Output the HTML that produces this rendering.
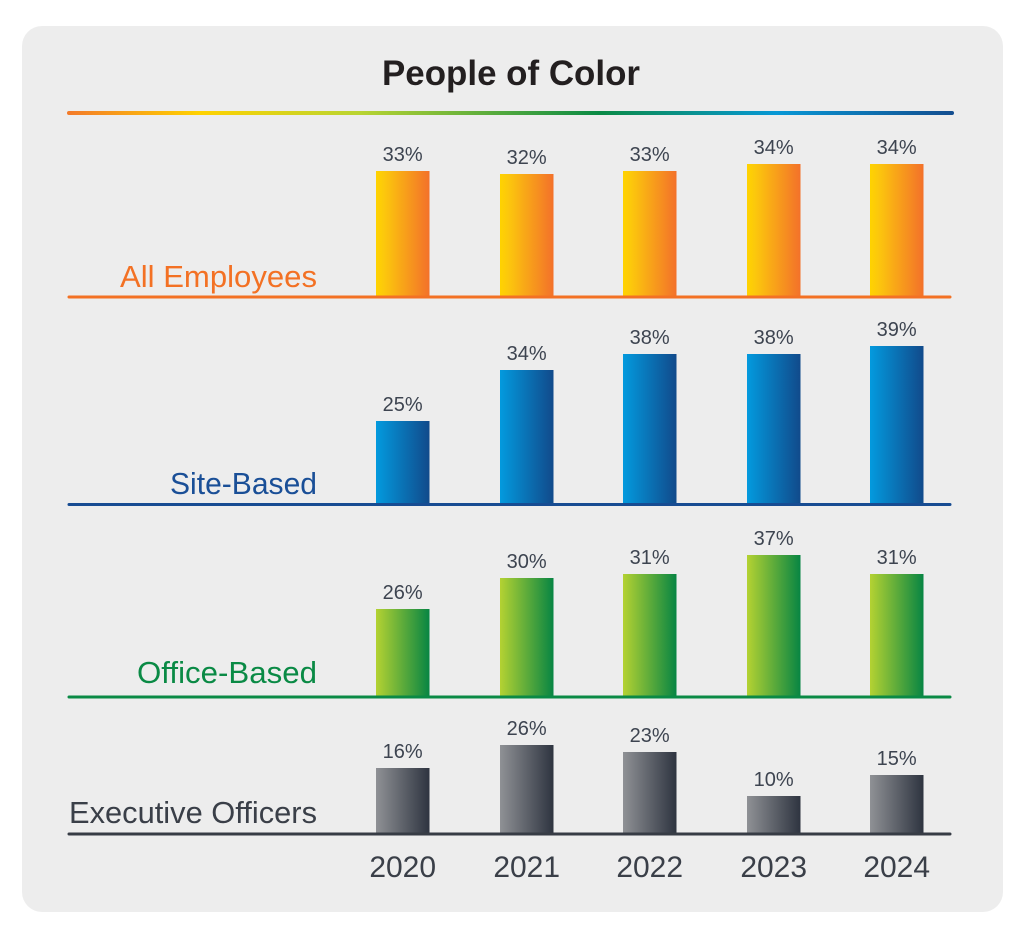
<!DOCTYPE html>
<html>
<head>
<meta charset="utf-8">
<style>
html,body{margin:0;padding:0;background:#ffffff;}
svg{display:block;}
text{font-family:"Liberation Sans",sans-serif;}
</style>
</head>
<body>
<svg width="1024" height="931" viewBox="0 0 1024 931" xmlns="http://www.w3.org/2000/svg">
<defs>
<linearGradient id="rainbow" x1="67" y1="0" x2="954" y2="0" gradientUnits="userSpaceOnUse">
<stop offset="0" stop-color="#f37a2a"/>
<stop offset="0.15" stop-color="#ffd200"/>
<stop offset="0.33" stop-color="#b9d432"/>
<stop offset="0.6" stop-color="#0a8a45"/>
<stop offset="0.8" stop-color="#0898d6"/>
<stop offset="1" stop-color="#134d8f"/>
</linearGradient>
<linearGradient id="gOr" x1="0" y1="0" x2="1" y2="0">
<stop offset="0" stop-color="#ffd300"/>
<stop offset="0.15" stop-color="#fcc80c"/>
<stop offset="1" stop-color="#f3712a"/>
</linearGradient>
<linearGradient id="gBl" x1="0" y1="0" x2="1" y2="0">
<stop offset="0" stop-color="#039ade"/>
<stop offset="1" stop-color="#114a8b"/>
</linearGradient>
<linearGradient id="gGr" x1="0" y1="0" x2="1" y2="0">
<stop offset="0" stop-color="#b4d232"/>
<stop offset="1" stop-color="#078543"/>
</linearGradient>
<linearGradient id="gGy" x1="0" y1="0" x2="1" y2="0">
<stop offset="0" stop-color="#8f9195"/>
<stop offset="1" stop-color="#2e3440"/>
</linearGradient>
</defs>

<rect x="22" y="26" width="981" height="886" rx="20" ry="20" fill="#ededed"/>

<text x="511" y="85" text-anchor="middle" font-size="35" font-weight="bold" fill="#231f20" textLength="258" lengthAdjust="spacingAndGlyphs">People of Color</text>

<line x1="69" y1="113" x2="952" y2="113" stroke="url(#rainbow)" stroke-width="4" stroke-linecap="round"/>

<!-- All Employees -->
<g fill="url(#gOr)">
<rect x="376" y="171" width="53.5" height="126"/>
<rect x="500" y="174" width="53.5" height="123"/>
<rect x="623" y="171" width="53.5" height="126"/>
<rect x="747" y="164" width="53.5" height="133"/>
<rect x="870" y="164" width="53.5" height="133"/>
</g>
<line x1="69" y1="297" x2="950" y2="297" stroke="#f37124" stroke-width="3" stroke-linecap="round"/>
<text x="317" y="287" text-anchor="end" font-size="31" fill="#f37124" textLength="197" lengthAdjust="spacingAndGlyphs">All Employees</text>
<g font-size="20" fill="#3d4450" text-anchor="middle">
<text x="402.7" y="161">33%</text>
<text x="526.7" y="164">32%</text>
<text x="649.7" y="161">33%</text>
<text x="773.7" y="154">34%</text>
<text x="896.7" y="154">34%</text>
</g>

<!-- Site-Based -->
<g fill="url(#gBl)">
<rect x="376" y="421" width="53.5" height="84"/>
<rect x="500" y="370" width="53.5" height="135"/>
<rect x="623" y="354" width="53.5" height="151"/>
<rect x="747" y="354" width="53.5" height="151"/>
<rect x="870" y="346" width="53.5" height="159"/>
</g>
<line x1="69" y1="504.5" x2="950" y2="504.5" stroke="#174c92" stroke-width="3" stroke-linecap="round"/>
<text x="317" y="494" text-anchor="end" font-size="31" fill="#1a4f97" textLength="147" lengthAdjust="spacingAndGlyphs">Site-Based</text>
<g font-size="20" fill="#3d4450" text-anchor="middle">
<text x="402.7" y="411">25%</text>
<text x="526.7" y="360">34%</text>
<text x="649.7" y="344">38%</text>
<text x="773.7" y="344">38%</text>
<text x="896.7" y="336">39%</text>
</g>

<!-- Office-Based -->
<g fill="url(#gGr)">
<rect x="376" y="609" width="53.5" height="88"/>
<rect x="500" y="578" width="53.5" height="119"/>
<rect x="623" y="574" width="53.5" height="123"/>
<rect x="747" y="555" width="53.5" height="142"/>
<rect x="870" y="574" width="53.5" height="123"/>
</g>
<line x1="69" y1="697" x2="950" y2="697" stroke="#0a8a45" stroke-width="3" stroke-linecap="round"/>
<text x="317" y="683" text-anchor="end" font-size="31" fill="#0a8a45" textLength="180" lengthAdjust="spacingAndGlyphs">Office-Based</text>
<g font-size="20" fill="#3d4450" text-anchor="middle">
<text x="402.7" y="599">26%</text>
<text x="526.7" y="568">30%</text>
<text x="649.7" y="564">31%</text>
<text x="773.7" y="545">37%</text>
<text x="896.7" y="564">31%</text>
</g>

<!-- Executive Officers -->
<g fill="url(#gGy)">
<rect x="376" y="768" width="53.5" height="66"/>
<rect x="500" y="745" width="53.5" height="89"/>
<rect x="623" y="752" width="53.5" height="82"/>
<rect x="747" y="796" width="53.5" height="38"/>
<rect x="870" y="775" width="53.5" height="59"/>
</g>
<line x1="69" y1="834" x2="950" y2="834" stroke="#373c45" stroke-width="3" stroke-linecap="round"/>
<text x="317" y="823" text-anchor="end" font-size="31" fill="#3a3f48" textLength="248" lengthAdjust="spacingAndGlyphs">Executive Officers</text>
<g font-size="20" fill="#3d4450" text-anchor="middle">
<text x="402.7" y="758">16%</text>
<text x="526.7" y="735">26%</text>
<text x="649.7" y="742">23%</text>
<text x="773.7" y="786">10%</text>
<text x="896.7" y="765">15%</text>
</g>

<!-- Years -->
<g font-size="30" fill="#3a3f48" text-anchor="middle">
<text x="402.7" y="877">2020</text>
<text x="526.7" y="877">2021</text>
<text x="649.7" y="877">2022</text>
<text x="773.7" y="877">2023</text>
<text x="896.7" y="877">2024</text>
</g>
</svg>
</body>
</html>
